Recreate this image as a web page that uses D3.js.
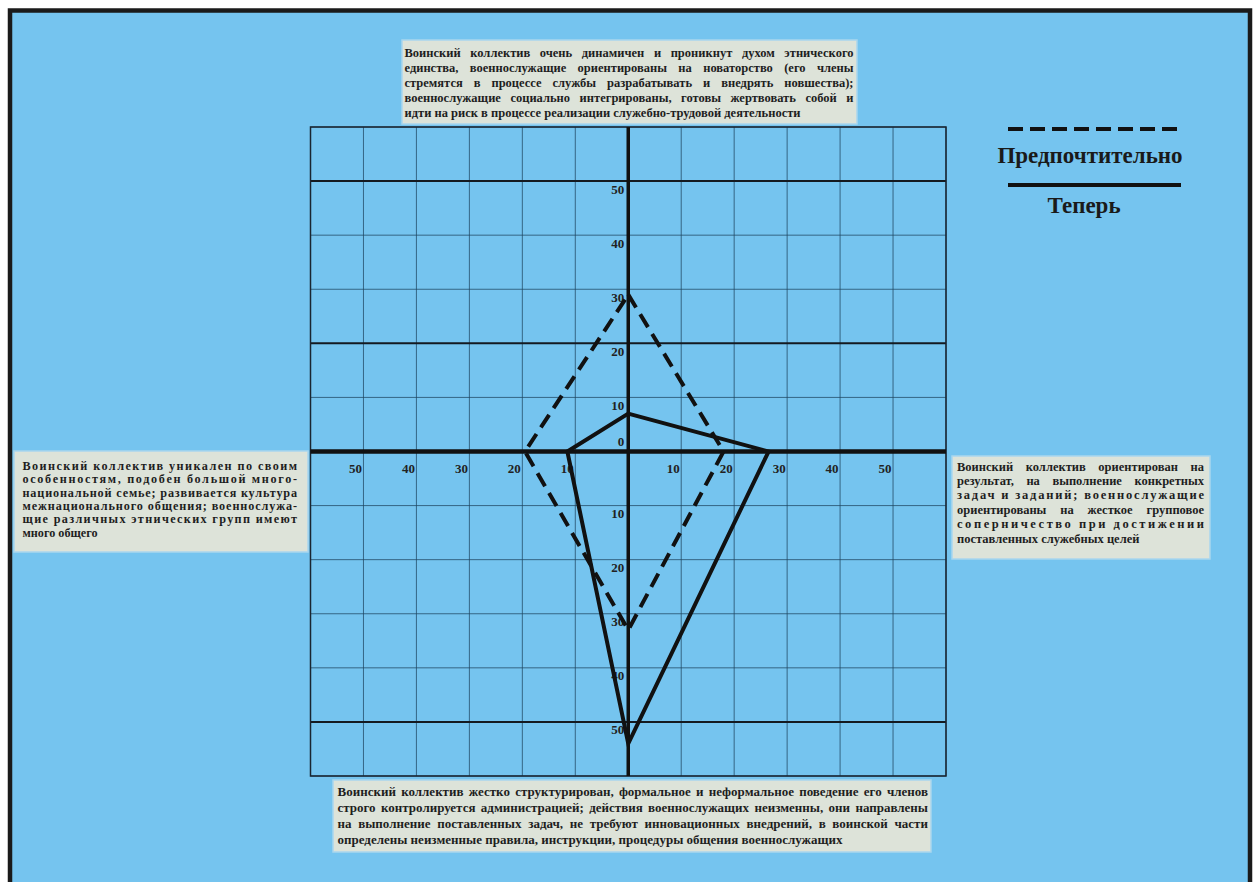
<!DOCTYPE html>
<html>
<head>
<meta charset="utf-8">
<script src="https://cdn.jsdelivr.net/npm/d3@7"></script>
<style>
  body { margin: 0; background: #fff; }
  text { font-family: "Liberation Serif", "DejaVu Serif", serif; font-weight: bold; }
</style>
</head>
<body>
<div id="chart"></div>
<script>
// values
const ticks = [-60, -50, -40, -30, -20, -10, 0, 10, 20, 30, 40, 50, 60];
const labelTicks = [-50, -40, -30, -20, -10, 10, 20, 30, 40, 50];
const thickRows = [50, 20, -50];
const preferred = [[0, 29], [18, 0], [0, -33], [-19.5, 0]];   // dashed
const current = [[0, 7], [26.5, 0], [0, -54], [-11.5, 0]];      // solid
const legendLabels = ["Предпочтительно", "Теперь"];

const topText = [
    "Воинский коллектив очень динамичен и проникнут духом этнического",
    "единства, военнослужащие ориентированы на новаторство (его члены",
    "стремятся в процессе службы разрабатывать и внедрять новшества);",
    "военнослужащие социально интегрированы, готовы жертвовать собой и",
    "идти на риск в процессе реализации служебно-трудовой деятельности"
];
const leftText = [
    "Воинский коллектив уникален по своим",
    "особенностям, подобен большой много-",
    "национальной семье; развивается культура",
    "межнационального общения; военнослужа-",
    "щие различных этнических групп имеют",
    "много общего"
];
const rightText = [
    "Воинский коллектив ориентирован на",
    "результат, на выполнение конкретных",
    "задач и заданий; военнослужащие",
    "ориентированы на жесткое групповое",
    "соперничество при достижении",
    "поставленных служебных целей"
];
const bottomText = [
    "Воинский коллектив жестко структурирован, формальное и неформальное поведение его членов",
    "строго контролируется администрацией; действия военнослужащих неизменны, они направлены",
    "на выполнение поставленных задач, не требуют инновационных внедрений, в воинской части",
    "определены неизменные правила, инструкции, процедуры общения военнослужащих"
];

const width = 1256, height = 882;

const svg = d3.select("#chart")
    .append("svg")
    .attr("width", width)
    .attr("height", height);

// page frame
svg.append("rect")
    .attr("x", 10).attr("y", 10.5)
    .attr("width", 1240).attr("height", 900)
    .attr("fill", "#75c4ef")
    .attr("stroke", "#1a1a1a")
    .attr("stroke-width", 4.5);

const x = d3.scaleLinear().domain([-60, 60]).range([310.5, 946]);
const y = d3.scaleLinear().domain([-60, 60]).range([776, 127]);

// grid
const grid = svg.append("g");
grid.selectAll(".v")
    .data(ticks)
    .join("line")
    .attr("x1", d => x(d)).attr("x2", d => x(d))
    .attr("y1", y(60)).attr("y2", y(-60))
    .attr("stroke", "#1f4560")
    .attr("stroke-opacity", 0.75)
    .attr("stroke-width", 1);

grid.selectAll(".h")
    .data(ticks)
    .join("line")
    .attr("x1", x(-60)).attr("x2", x(60))
    .attr("y1", d => y(d)).attr("y2", d => y(d))
    .attr("stroke", d => thickRows.includes(d) ? "#141a20" : "#1f4560")
    .attr("stroke-opacity", d => thickRows.includes(d) ? 1 : 0.75)
    .attr("stroke-width", d => thickRows.includes(d) ? 2 : 1);

grid.append("rect")
    .attr("x", x(-60)).attr("y", y(60))
    .attr("width", x(60) - x(-60)).attr("height", y(-60) - y(60))
    .attr("fill", "none")
    .attr("stroke", "#1a2530")
    .attr("stroke-width", 1.5);

// main axes
svg.append("line")
    .attr("x1", x(-60)).attr("x2", x(60))
    .attr("y1", y(0)).attr("y2", y(0))
    .attr("stroke", "#111").attr("stroke-width", 4.5);
svg.append("line")
    .attr("x1", x(0)).attr("x2", x(0))
    .attr("y1", y(60)).attr("y2", y(-60))
    .attr("stroke", "#111").attr("stroke-width", 3.5);

// tick labels
const xAxis = g => g
    .attr("transform", `translate(0,${y(0)})`)
    .call(d3.axisBottom(x).tickValues(labelTicks).tickSize(0).tickFormat(d => Math.abs(d)))
    .call(g => g.select(".domain").remove());

const yAxis = g => g
    .attr("transform", `translate(${x(0)},0)`)
    .call(d3.axisLeft(y).tickValues(labelTicks.concat([0])).tickSize(0).tickFormat(d => Math.abs(d)))
    .call(g => g.select(".domain").remove());

svg.append("g").call(xAxis)
    .selectAll("text")
    .attr("y", 12).attr("dy", "0.71em")
    .attr("dx", -2)
    .attr("text-anchor", "end");

svg.append("g").call(yAxis)
    .selectAll("text")
    .attr("x", -4)
    .attr("dy", d => d === 0 ? -6 : 12);

svg.selectAll(".tick text")
    .attr("font-family", "Liberation Serif")
    .attr("font-weight", "bold")
    .attr("font-size", 13)
    .attr("fill", "#222");

// polygons
const line = d3.line()
    .x(d => x(d[0]))
    .y(d => y(d[1]))
    .curve(d3.curveLinearClosed);

svg.append("path")
    .attr("d", line(preferred))
    .attr("fill", "none")
    .attr("stroke", "#111")
    .attr("stroke-width", 4)
    .attr("stroke-dasharray", "15,8");

svg.append("path")
    .attr("d", line(current))
    .attr("fill", "none")
    .attr("stroke", "#111")
    .attr("stroke-width", 4);

// legend
const legend = svg.append("g");
legend.append("line")
    .attr("x1", 1008).attr("x2", 1181).attr("y1", 129).attr("y2", 129)
    .attr("stroke", "#111").attr("stroke-width", 4)
    .attr("stroke-dasharray", "15,7");
legend.append("line")
    .attr("x1", 1008).attr("x2", 1181).attr("y1", 185).attr("y2", 185)
    .attr("stroke", "#111").attr("stroke-width", 4);
legend.selectAll("text")
    .data(legendLabels)
    .join("text")
    .attr("x", (d, i) => i ? 1084 : 1090)
    .attr("y", (d, i) => i ? 213 : 163)
    .attr("text-anchor", "middle")
    .attr("font-size", 23)
    .attr("fill", "#1a1a1a")
    .text(d => d);

// text boxes: box, text area, line step, font size; all lines but the last are justified.
// wide gaps (over b.spread * font size) are spread over the letters instead of the spaces
function textBox(lines, b) {
    const g = svg.append("g");
    g.append("rect")
        .attr("x", b.x).attr("y", b.y)
        .attr("width", b.w).attr("height", b.h)
        .attr("fill", "#dde3d9")
        .attr("stroke", "#a9d6ee")
        .attr("stroke-width", 1.5);

    const measure = s => {
        const p = g.append("text").attr("font-size", b.fs).text(s);
        const wd = p.node().getComputedTextLength();
        p.remove();
        return wd;
    };

    const inner = b.tx1 - b.tx0;
    lines.forEach((ln, i) => {
        const t = g.append("text")
            .attr("x", b.tx0)
            .attr("y", b.ty + i * b.step)
            .attr("font-size", b.fs)
            .attr("fill", "#1e1e1e")
            .text(ln);
        const natural = t.node().getComputedTextLength();
        if (natural > inner) {
            t.attr("textLength", inner).attr("lengthAdjust", "spacingAndGlyphs");
            return;
        }
        if (i === lines.length - 1) return;
        const words = ln.split(" ");
        const extra = (inner - natural) / (words.length - 1);
        if (extra > b.fs * b.spread) {
            t.attr("textLength", inner).attr("lengthAdjust", "spacing");
            return;
        }
        const widths = words.map(measure);
        t.text(null);
        const gap = (inner - d3.sum(widths)) / (words.length - 1);
        let cx = b.tx0;
        words.forEach((w, k) => {
            t.append("tspan").attr("x", cx).text(w);
            cx += widths[k] + gap;
        });
    });
}

textBox(topText, {x: 402, y: 40, w: 455, h: 84, tx0: 404.5, tx1: 853.5, ty: 57, step: 15, fs: 12.5, spread: 1.6});
textBox(leftText, {x: 14, y: 451, w: 294, h: 101, tx0: 22.5, tx1: 297, ty: 470, step: 13.3, fs: 12.2, spread: 0});
textBox(rightText, {x: 952, y: 456, w: 258, h: 103, tx0: 957, tx1: 1204, ty: 470.5, step: 14.4, fs: 12.5, spread: 1.2});
textBox(bottomText, {x: 333, y: 780, w: 598, h: 72, tx0: 337.5, tx1: 928, ty: 796, step: 16, fs: 13, spread: 1.6});
</script>
</body>
</html>
